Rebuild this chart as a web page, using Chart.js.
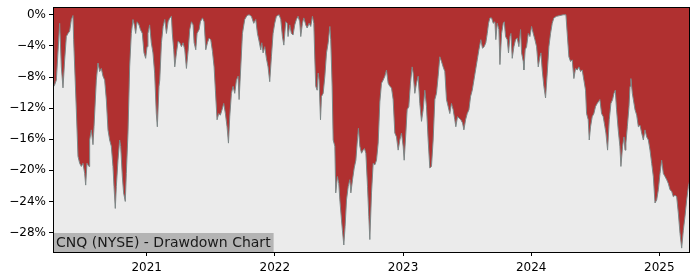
<!DOCTYPE html>
<html>
<head>
<meta charset="utf-8">
<title>CNQ (NYSE) - Drawdown Chart</title>
<script src="https://cdn.jsdelivr.net/npm/chart.js@4.4.1/dist/chart.umd.min.js"></script>
<style>
  html, body { margin: 0; padding: 0; background: #ffffff; }
  #chartContainer { width: 700px; height: 280px; }
</style>
</head>
<body>
<div id="chartContainer"><canvas id="myChart" width="700" height="280"></canvas></div>
<script>
// Dates as decimal years, drawdown in percent
const dates = [
  2020.269, 2020.274, 2020.282, 2020.295, 2020.321, 2020.334, 2020.347, 2020.360, 2020.373, 2020.386,
  2020.399, 2020.412, 2020.425, 2020.430, 2020.451, 2020.464, 2020.477, 2020.490, 2020.503, 2020.516,
  2020.524, 2020.534, 2020.550, 2020.555, 2020.568, 2020.581, 2020.589, 2020.607, 2020.620, 2020.633,
  2020.646, 2020.659, 2020.672, 2020.685, 2020.698, 2020.711, 2020.724, 2020.737, 2020.745, 2020.755,
  2020.763, 2020.776, 2020.789, 2020.797, 2020.810, 2020.820, 2020.833, 2020.841, 2020.854, 2020.867,
  2020.880, 2020.893, 2020.906, 2020.914, 2020.925, 2020.940, 2020.951, 2020.966, 2020.979, 2020.992,
  2021.003, 2021.010, 2021.023, 2021.036, 2021.049, 2021.062, 2021.075, 2021.083, 2021.096,
  2021.102, 2021.115, 2021.128, 2021.141, 2021.154, 2021.167, 2021.180, 2021.193, 2021.200, 2021.211,
  2021.219, 2021.232, 2021.245, 2021.258, 2021.271, 2021.284, 2021.297, 2021.310, 2021.323, 2021.336,
  2021.349, 2021.362, 2021.370, 2021.383, 2021.393, 2021.409, 2021.419, 2021.435, 2021.448, 2021.461,
  2021.474, 2021.487, 2021.500, 2021.513, 2021.526, 2021.536, 2021.549, 2021.562, 2021.575, 2021.588,
  2021.601, 2021.614, 2021.627, 2021.638, 2021.648, 2021.661, 2021.674, 2021.687, 2021.700, 2021.713,
  2021.721, 2021.734, 2021.747, 2021.765, 2021.783, 2021.799, 2021.817, 2021.835, 2021.851, 2021.864,
  2021.877, 2021.890, 2021.898, 2021.908, 2021.921, 2021.934, 2021.947, 2021.960,
  2021.973, 2021.986, 2021.999, 2022.012, 2022.033, 2022.046, 2022.059, 2022.070, 2022.085, 2022.096,
  2022.103, 2022.116, 2022.129, 2022.142, 2022.155, 2022.168, 2022.181, 2022.194, 2022.202, 2022.215,
  2022.226, 2022.241, 2022.252, 2022.267, 2022.280, 2022.293, 2022.304, 2022.312, 2022.319, 2022.330,
  2022.338, 2022.345, 2022.356, 2022.364, 2022.377, 2022.390, 2022.403, 2022.416, 2022.429, 2022.436,
  2022.447, 2022.455, 2022.468, 2022.475, 2022.488, 2022.499, 2022.507, 2022.520, 2022.527, 2022.538,
  2022.548, 2022.559, 2022.572, 2022.585, 2022.593, 2022.606, 2022.619, 2022.632, 2022.642, 2022.652,
  2022.663, 2022.676, 2022.689, 2022.699, 2022.710, 2022.723, 2022.733, 2022.741, 2022.754, 2022.767,
  2022.780, 2022.793, 2022.806, 2022.819,
  2022.832, 2022.845, 2022.858, 2022.871, 2022.884, 2022.897, 2022.910, 2022.923, 2022.936, 2022.949,
  2022.962, 2022.975, 2022.988, 2023.001, 2023.009, 2023.022, 2023.032, 2023.045, 2023.058, 2023.071,
  2023.079, 2023.092, 2023.105, 2023.118, 2023.131, 2023.144, 2023.157, 2023.170, 2023.183, 2023.196,
  2023.209, 2023.222, 2023.235, 2023.248, 2023.261, 2023.274, 2023.287, 2023.300, 2023.313, 2023.326,
  2023.339, 2023.352, 2023.365, 2023.378, 2023.391, 2023.404, 2023.412, 2023.425, 2023.438, 2023.451,
  2023.464, 2023.475, 2023.488, 2023.501, 2023.514, 2023.527, 2023.540, 2023.553, 2023.566, 2023.579,
  2023.592, 2023.607, 2023.620, 2023.633, 2023.646, 2023.657, 2023.667, 2023.678,
  2023.691, 2023.704, 2023.717, 2023.724, 2023.735, 2023.748, 2023.756, 2023.769, 2023.782, 2023.790,
  2023.800, 2023.813, 2023.823, 2023.834, 2023.842, 2023.852, 2023.865, 2023.878, 2023.891, 2023.904,
  2023.917, 2023.925, 2023.938, 2023.943, 2023.953, 2023.964, 2023.977, 2023.990, 2024.003, 2024.016,
  2024.029, 2024.042, 2024.055, 2024.068, 2024.076, 2024.086, 2024.099, 2024.112, 2024.125, 2024.138,
  2024.151, 2024.164, 2024.177, 2024.198, 2024.224, 2024.250, 2024.271, 2024.281, 2024.294, 2024.307,
  2024.320, 2024.333, 2024.346, 2024.359, 2024.372, 2024.385, 2024.398, 2024.411, 2024.424, 2024.432,
  2024.445, 2024.453, 2024.463, 2024.476, 2024.489, 2024.502, 2024.515, 2024.536,
  2024.549, 2024.562, 2024.575, 2024.583, 2024.596, 2024.609, 2024.622, 2024.635, 2024.646, 2024.656,
  2024.666, 2024.679, 2024.692, 2024.700, 2024.713, 2024.724, 2024.732, 2024.739, 2024.750, 2024.763,
  2024.771, 2024.778, 2024.789, 2024.797, 2024.810, 2024.823, 2024.836, 2024.849, 2024.862, 2024.875,
  2024.888, 2024.901, 2024.914, 2024.927, 2024.940, 2024.953, 2024.966, 2024.979, 2024.992, 2025.005,
  2025.018, 2025.031, 2025.044, 2025.057, 2025.070, 2025.083, 2025.096, 2025.109, 2025.122, 2025.135,
  2025.148, 2025.161, 2025.174, 2025.187, 2025.200, 2025.213, 2025.226, 2025.239
];

const drawdown = [
  -3.2, -9.2, -9.0, -8.4, -1.1, -6.7, -9.4, -5.8, -2.8, -2.4,
  -2.1, -0.6, -0.1, -3.2, -12.2, -18.2, -19.1, -19.5, -19.1, -20.4,
  -21.9, -19.1, -19.5, -16.1, -14.8, -16.7, -14.4, -8.4, -6.2, -7.3,
  -6.9, -7.9, -8.4, -10.9, -14.8, -16.1, -16.9, -19.5, -22.1, -24.9,
  -22.1, -18.7, -16.1, -16.9, -20.8, -22.9, -24.0, -20.4, -15.2, -6.7,
  -2.4, -0.6, -1.5, -2.4, -0.9, -1.3, -1.9, -2.4, -4.9, -5.6,
  -4.1, -2.4, -1.3, -3.6, -4.9, -7.5, -12.7, -14.4, -9.2,
  -8.4, -3.6, -1.5, -0.6, -2.4, -0.9, -0.4, -0.2, -2.4, -4.5,
  -6.7, -4.9, -3.4, -3.6, -4.1, -3.6, -4.5, -6.9, -4.7, -1.9,
  -0.9, -1.3, -3.6, -4.5, -2.4, -1.9, -0.9, -0.4, -0.9, -4.5,
  -3.6, -3.0, -3.2, -4.7, -6.7, -9.7, -13.5, -12.7, -12.9, -12.2,
  -11.4, -12.7, -14.4, -16.5, -13.1, -10.1, -9.2, -10.1, -8.4, -7.9,
  -10.9, -6.7, -2.4, -0.6, -0.1, 0, -0.2, -1.1, -0.6, -2.4,
  -3.4, -4.5, -3.6, -4.9, -4.1, -5.6, -6.7, -8.6,
  -5.4, -2.4, -1.1, -0.2, 0, -0.6, -2.8, -3.9, -0.9, -1.1,
  -2.8, -1.3, -2.4, -2.6, -1.3, -0.6, -0.2, -0.9, -2.8, -1.1,
  -0.4, -1.3, -1.7, -1.1, -1.5, -0.2, -1.1, -5.8, -9.2, -9.7,
  -7.5, -8.4, -13.5, -10.5, -10.1, -7.9, -4.9, -3.6, -1.5, -3.2,
  -9.2, -16.1, -16.9, -22.9, -20.8, -21.7, -23.8, -26.4, -27.7, -29.6,
  -27.2, -23.8, -22.1, -21.2, -22.9, -21.2, -19.7, -18.7, -16.5, -14.6,
  -16.9, -17.8, -17.4, -17.2, -17.8, -22.1, -25.9, -28.9, -22.9, -19.1,
  -19.3, -18.7, -16.5, -11.2,
  -8.8, -8.4, -7.9, -7.1, -8.8, -9.2, -9.4, -10.9, -15.2, -15.7,
  -17.4, -16.1, -15.2, -16.9, -18.7, -15.2, -12.2, -11.8, -8.8, -6.7,
  -7.5, -10.1, -8.8, -7.9, -11.4, -13.7, -12.2, -9.7, -11.8, -16.1,
  -19.7, -19.5, -16.1, -10.9, -10.1, -7.9, -5.4, -6.0, -6.7, -7.3,
  -10.9, -11.8, -12.7, -11.4, -12.2, -13.5, -14.4, -13.1, -13.3, -13.5,
  -13.9, -14.8, -13.5, -12.7, -12.2, -10.5, -9.7, -8.4, -7.1, -5.8,
  -4.5, -3.2, -4.3, -4.1, -3.6, -2.4, -1.1, -0.4,
  -0.4, -1.1, -0.9, -3.2, -1.1, -1.9, -6.4, -2.4, -1.1, -0.9,
  -2.8, -3.2, -4.9, -2.8, -2.4, -5.6, -4.1, -3.2, -3.0, -4.1,
  -1.9, -4.9, -6.0, -7.1, -4.5, -4.1, -2.4, -2.8, -1.5, -2.4,
  -3.2, -4.1, -6.7, -5.4, -4.9, -7.1, -9.2, -10.7, -7.5, -4.1,
  -2.4, -1.1, -0.4, -0.2, -0.1, 0, 0, -2.4, -5.4, -6.0,
  -5.8, -8.2, -6.9, -7.1, -6.7, -7.3, -7.1, -8.4, -9.7, -12.7,
  -13.5, -16.1, -14.4, -13.1, -12.7, -11.8, -11.4, -10.9,
  -12.7, -13.1, -14.4, -15.2, -17.4, -13.5, -11.4, -10.9, -10.1, -9.7,
  -12.2, -14.8, -16.9, -19.5, -16.9, -15.7, -17.4, -16.5, -14.4, -11.8,
  -9.2, -8.2, -10.1, -10.9, -12.2, -12.9, -14.4, -14.2, -15.2, -16.1,
  -14.8, -15.7, -16.1, -17.4, -19.1, -20.8, -24.2, -23.8, -22.5, -20.4,
  -18.7, -20.4, -20.8, -21.2, -21.7, -22.5, -22.7, -23.4, -23.2, -23.4,
  -25.5, -28.1, -30.0, -27.7, -25.9, -23.8, -22.1, -21.2
];

// Axis ticks
const xTicks = [2021, 2022, 2023, 2024, 2025];
const yTicks = [0, -4, -8, -12, -16, -20, -24, -28];
const yMin = -30.5;
const yMax = 1.0;
const chartTitle = 'CNQ (NYSE) - Drawdown Chart';

// Plot area background, frame and the title box at the bottom left
const plotDecor = {
  id: 'plotDecor',
  beforeDatasetsDraw(chart) {
    const { ctx, chartArea: a } = chart;
    ctx.save();
    ctx.fillStyle = '#ebebeb';
    ctx.fillRect(a.left, a.top, a.right - a.left, a.bottom - a.top);
    ctx.restore();
  },
  afterDatasetsDraw(chart) {
    const { ctx, chartArea: a } = chart;
    ctx.save();
    ctx.font = '14px "DejaVu Sans"';
    const w = ctx.measureText(chartTitle).width;
    ctx.fillStyle = '#b4b4b4';
    ctx.fillRect(a.left, a.bottom - 19, w + 6, 19);
    ctx.fillStyle = '#1a1a1a';
    ctx.textBaseline = 'alphabetic';
    ctx.fillText(chartTitle, a.left + 3, a.bottom - 5);
    ctx.strokeStyle = '#000000';
    ctx.lineWidth = 1;
    ctx.strokeRect(a.left + 0.5, a.top + 0.5, a.right - a.left - 1, a.bottom - a.top);
    ctx.restore();
  }
};

window.onload = function() {
  const ctx = document.getElementById('myChart').getContext('2d');
  const points = dates.map((d, i) => ({ x: d, y: drawdown[i] }));

  new Chart(ctx, {
    type: 'line',
    data: {
      datasets: [{
        data: points,
        borderColor: 'rgba(125, 135, 135, 1)',
        borderWidth: 1,
        backgroundColor: '#b03030',
        fill: 'end',
        pointRadius: 0,
        tension: 0
      }]
    },
    options: {
      responsive: false,
      animation: false,
      devicePixelRatio: 1,
      layout: { padding: { top: 7, right: 10, left: 0, bottom: 0 } },
      plugins: {
        legend: { display: false },
        tooltip: { enabled: false }
      },
      scales: {
        x: {
          type: 'linear',
          min: dates[0],
          max: dates[dates.length - 1],
          afterBuildTicks: s => { s.ticks = xTicks.map(v => ({ value: v })); },
          afterFit: s => { s.height = 28; s.paddingLeft = 0; s.paddingRight = 0; },
          border: { display: false },
          grid: { drawOnChartArea: false, drawTicks: true, tickLength: 4, color: '#000000' },
          ticks: {
            color: '#000000',
            font: { family: 'DejaVu Sans', size: 12 },
            padding: 5,
            maxRotation: 0,
            callback: v => String(v)
          }
        },
        y: {
          min: yMin,
          max: yMax,
          afterBuildTicks: s => { s.ticks = yTicks.map(v => ({ value: v })); },
          afterFit: s => { s.width = 53; s.paddingTop = 0; s.paddingBottom = 0; },
          border: { display: false },
          grid: { drawOnChartArea: false, drawTicks: true, tickLength: 4, color: '#000000' },
          ticks: {
            color: '#000000',
            font: { family: 'DejaVu Sans', size: 12 },
            padding: 3,
            callback: v => (v < 0 ? '\u2212' + Math.abs(v) : v) + '%'
          }
        }
      }
    },
    plugins: [plotDecor]
  });
};
</script>
</body>
</html>
